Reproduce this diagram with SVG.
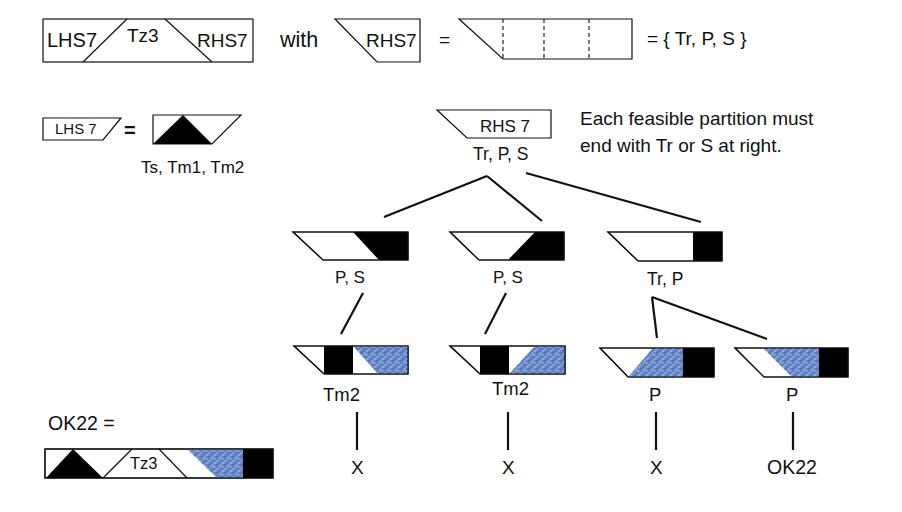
<svg xmlns="http://www.w3.org/2000/svg" width="902" height="512" viewBox="0 0 902 512">
<style>
text{font-family:"Liberation Sans",Arial,sans-serif;fill:#111}
.o{fill:none;stroke:#111;stroke-width:1.2}
.w{fill:#fff;stroke:#111;stroke-width:1.2}
.k{fill:#000}
.b{fill:url(#weave)}
.ln{stroke:#111;stroke-width:2.2;fill:none}
.d{stroke:#111;stroke-width:1.1;stroke-dasharray:4 3}
</style>
<defs>
<pattern id="weave" width="8" height="8" patternUnits="userSpaceOnUse">
<rect width="8" height="8" fill="#6c8dca"/>
<path d="M0 1h3M4 5h3M1 3v2M6 0v2M2 7h2" stroke="#3e5fa4" stroke-width="1"/>
<path d="M4 1h2M0 5h2M5 3h2M3 2v1M7 6v2" stroke="#a9c2ec" stroke-width="1"/>
</pattern>
</defs>
<rect width="902" height="512" fill="#fff"/>

<g id="top-eq">
<rect x="43" y="19" width="210" height="43" class="o"/>
<line x1="127" y1="19" x2="83" y2="62" class="o"/>
<line x1="165" y1="19" x2="212" y2="62" class="o"/>
<text x="47" y="47" font-size="20">LHS7</text>
<text x="127" y="42" font-size="19">Tz3</text>
<text x="197" y="47" font-size="19">RHS7</text>
<text x="280" y="47" font-size="21.5">with</text>
<polygon points="335,19 420,19 420,62 377,62" class="w"/>
<text x="366" y="47" font-size="19">RHS7</text>
<text x="439" y="46" font-size="19">=</text>
<polygon points="459,19 632,19 632,59 503,59" class="w"/>
<line x1="503" y1="19" x2="503" y2="59" class="d"/>
<line x1="544" y1="19" x2="544" y2="59" class="d"/>
<line x1="589" y1="19" x2="589" y2="59" class="d"/>
<text x="647" y="45" font-size="19">= { Tr, P, S }</text>
</g>

<g id="lhs7-def">
<polygon points="43,118 121,118 103,140 43,140" class="w"/>
<text x="55" y="134" font-size="15">LHS 7</text>
<text x="124" y="137" font-size="20" font-weight="bold">=</text>
<polygon points="153,115 241,115 212,144 153,144" class="w"/>
<polygon points="153,144 183,115 212,144" class="k"/>
<text x="141" y="173" font-size="17">Ts, Tm1, Tm2</text>
</g>

<g id="rhs7-root">
<polygon points="437,110 551,110 551,138 467,138" class="w"/>
<text x="480" y="132" font-size="17">RHS 7</text>
<text x="473" y="160" font-size="17.5">Tr, P, S</text>
</g>

<g id="note">
<text x="580" y="125" font-size="19">Each feasible  partition must</text>
<text x="580" y="152" font-size="19">end with Tr or S at right.</text>
</g>

<g id="n1a">
<polygon points="293,232 408,232 408,260 323,260" class="w"/>
<polygon points="353,232 408,232 408,260 379,260" class="k"/>
<polygon points="293,232 408,232 408,260 323,260" class="o"/>
<text x="335" y="283" font-size="17">P, S</text>
</g>
<g id="n1b">
<polygon points="450,232 564,232 564,260 479,260" class="w"/>
<polygon points="535,232 564,232 564,260 508,260" class="k"/>
<polygon points="450,232 564,232 564,260 479,260" class="o"/>
<text x="493" y="283" font-size="17">P, S</text>
</g>
<g id="n1c">
<polygon points="608,232 722,232 722,261 638,261" class="w"/>
<rect x="693" y="232" width="29" height="29" class="k"/>
<polygon points="608,232 722,232 722,261 638,261" class="o"/>
<text x="647" y="285" font-size="17.5">Tr, P</text>
</g>

<g id="n2a">
<polygon points="294,346 408,346 408,374 324,374" class="w"/>
<rect x="324" y="346" width="29" height="28" class="k"/>
<polygon points="353,346 408,346 408,374 378,374" class="b"/>
<polygon points="294,346 408,346 408,374 324,374" class="o"/>
<text x="323" y="401" font-size="18.5">Tm2</text>
</g>
<g id="n2b">
<polygon points="450,346 565,346 565,374 480,374" class="w"/>
<rect x="480" y="346" width="29" height="28" class="k"/>
<polygon points="535,346 565,346 565,374 509,374" class="b"/>
<polygon points="450,346 565,346 565,374 480,374" class="o"/>
<text x="492" y="395" font-size="18.5">Tm2</text>
</g>
<g id="n2c">
<polygon points="600,348 714,348 714,377 628,377" class="w"/>
<polygon points="653,348 683,348 683,377 628,377" class="b"/>
<rect x="683" y="348" width="31" height="29" class="k"/>
<polygon points="600,348 714,348 714,377 628,377" class="o"/>
<text x="649" y="401" font-size="18.5">P</text>
</g>
<g id="n2d">
<polygon points="735,348 848,348 848,377 764,377" class="w"/>
<polygon points="763,348 819,348 819,377 792,377" class="b"/>
<rect x="819" y="348" width="29" height="29" class="k"/>
<polygon points="735,348 848,348 848,377 764,377" class="o"/>
<text x="786" y="401" font-size="18.5">P</text>
</g>

<g id="leaf1"><text x="351" y="474" font-size="19">X</text></g>
<g id="leaf2"><text x="502" y="474" font-size="19">X</text></g>
<g id="leaf3"><text x="650" y="474" font-size="19">X</text></g>
<g id="leaf4"><text x="767" y="474" font-size="19.5">OK22</text></g>

<g id="ok22-def">
<text x="48" y="430" font-size="19.5">OK22 =</text>
<rect x="45" y="449" width="228" height="29" class="w"/>
<polygon points="46,478 73,449 103,478" class="k"/>
<line x1="103" y1="478" x2="132" y2="449" class="o"/>
<line x1="159" y1="449" x2="187" y2="478" class="o"/>
<polygon points="187,449 243,449 243,478 217,478" class="b"/>
<rect x="243" y="449" width="30" height="29" class="k"/>
<rect x="45" y="449" width="228" height="29" class="o"/>
<text x="130" y="469" font-size="16.5">Tz3</text>
</g>

<g id="connectors">
<line x1="487" y1="176" x2="384" y2="217" class="ln"/>
<line x1="487" y1="176" x2="542" y2="221" class="ln"/>
<line x1="526" y1="173" x2="701" y2="222" class="ln"/>
<line x1="363" y1="293" x2="341" y2="334" class="ln"/>
<line x1="506" y1="293" x2="485" y2="334" class="ln"/>
<line x1="652" y1="297" x2="657" y2="338" class="ln"/>
<line x1="652" y1="297" x2="767" y2="339" class="ln"/>
<line x1="357" y1="412" x2="357" y2="450" class="ln"/>
<line x1="508" y1="412" x2="508" y2="450" class="ln"/>
<line x1="656" y1="412" x2="656" y2="450" class="ln"/>
<line x1="793" y1="412" x2="793" y2="450" class="ln"/>
</g>
</svg>
